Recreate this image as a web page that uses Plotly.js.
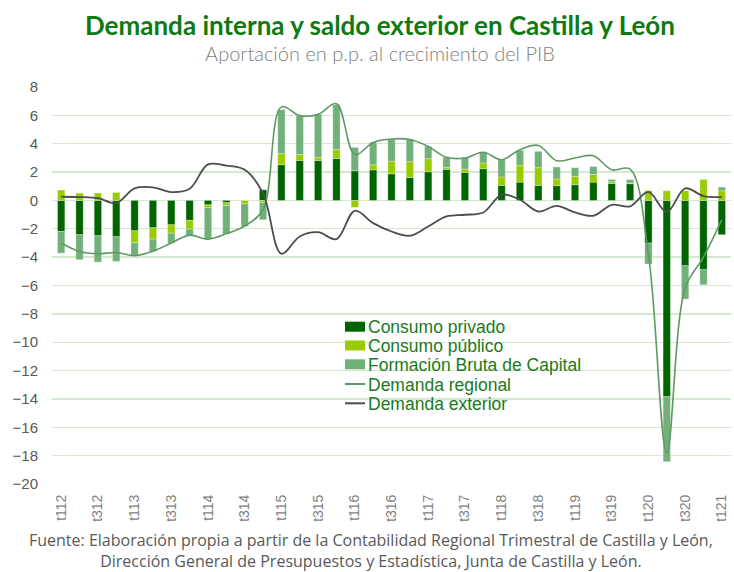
<!DOCTYPE html>
<html>
<head>
<meta charset="utf-8">
<script src="https://cdn.plot.ly/plotly-3.0.1.min.js"></script>
<style>html,body{margin:0;padding:0;background:#fff}#chart{width:734px;height:572px}</style>
</head>
<body>
<div id="chart"></div>
<script>
const quarters = ["t112","t212","t312","t412","t113","t213","t313","t413","t114","t214","t314","t414",
  "t115","t215","t315","t415","t116","t216","t316","t416","t117","t217","t317","t417",
  "t118","t218","t318","t418","t119","t219","t319","t419","t120","t220","t320","t420","t121"];
const tickLabels = ["t112","t312","t113","t313","t114","t314","t115","t315","t116","t316","t117","t317",
  "t118","t318","t119","t319","t120","t320","t121"];
const seriesNames = ["Consumo privado","Consumo público","Formación Bruta de Capital","Demanda regional","Demanda exterior"];

const consumoPrivado = [-2.19,-2.42,-2.49,-2.56,-2.14,-1.93,-1.72,-1.41,-0.31,-0.16,0,0.75,
  2.52,2.82,2.82,2.96,2.09,2.16,1.88,1.62,2.02,2.19,1.98,2.24,
  1.06,1.29,1.06,1.04,1.11,1.29,1.20,1.18,-3.01,-13.84,-4.61,-4.89,-2.42];
const consumoPublico = [0.73,0.52,0.52,0.56,-0.85,-0.80,-0.59,-0.61,-0.21,-0.19,-0.24,-0.14,
  0.78,0.42,0.21,0.64,-0.49,0.35,0.89,1.11,0.92,0.14,0.24,0.40,
  0.59,1.20,1.25,0.47,0.59,0.54,0.12,0.05,0.70,0.68,0.68,1.48,0.68];
const formacionBruta = [-1.53,-1.76,-1.86,-1.74,-0.92,-0.87,-0.71,-0.45,-2.21,-2.02,-1.60,-1.22,
  3.10,2.73,3.04,3.15,1.65,1.58,1.55,1.60,0.87,0.71,0.82,0.78,
  1.22,1.04,1.15,0.85,0.61,0.56,0.16,0.24,-1.48,-4.59,-2.35,-1.06,0.26];
const demandaRegional = [-3.0,-3.6,-3.76,-3.67,-3.9,-3.58,-3.0,-2.45,-2.73,-2.35,-1.8,-0.65,
  6.6,5.98,6.07,6.82,3.22,4.09,4.33,4.3,3.81,3.04,2.99,3.4,
  2.87,3.58,3.88,2.8,2.99,3.15,2.16,2.2,-3.8,-17.8,-6.2,-4.0,-1.35];
const demandaExterior = [0.26,0.24,0.16,-0.19,0.85,0.92,0.59,0.82,2.54,2.45,2.16,0.5,
  -3.76,-2.54,-2.24,-2.73,-0.73,-1.6,-2.19,-2.49,-1.84,-1.13,-1.01,-0.85,
  0.4,0.05,-0.78,-0.38,-0.85,-1.08,-0.31,-0.42,0.6,-0.82,0.85,0.31,0.24];

const colors = ['#006400','#99cc00','#72b07a','#5e9a66','#4d4d4d'];
const barLine = {color:'rgba(255,255,255,0.6)', width:0.5};
const traces = [
  {type:'bar', name:seriesNames[0], x:quarters, y:consumoPrivado, marker:{color:colors[0], line:barLine}},
  {type:'bar', name:seriesNames[1], x:quarters, y:consumoPublico, marker:{color:colors[1], line:barLine}},
  {type:'bar', name:seriesNames[2], x:quarters, y:formacionBruta, marker:{color:colors[2], line:barLine}},
  {type:'scatter', mode:'lines', name:seriesNames[3], x:quarters, y:demandaRegional,
   line:{color:colors[3], width:1.6, shape:'spline', smoothing:1}},
  {type:'scatter', mode:'lines', name:seriesNames[4], x:quarters, y:demandaExterior,
   line:{color:colors[4], width:1.8, shape:'spline', smoothing:1}}
];

// plot area in pixels
const L = 52, R = 731, T = 87, B = 484;
const px = v => (v - L) / (R - L);
const py = v => (B - v) / (B - T);

const legendY = [326.7, 345.5, 364.3, 384, 403.3];
const shapes = [];
const annotations = [];
seriesNames.forEach((name, i) => {
  const yc = legendY[i];
  if (i < 3) {
    shapes.push({type:'rect', xref:'paper', yref:'paper', x0:px(345), x1:px(365), y0:py(yc+5), y1:py(yc-5),
      fillcolor:colors[i], line:{width:0}});
  } else {
    shapes.push({type:'line', xref:'paper', yref:'paper', x0:px(345), x1:px(365), y0:py(yc), y1:py(yc),
      line:{color:colors[i], width:2}});
  }
  annotations.push({text:name, xref:'paper', yref:'paper', x:px(366), y:py(yc+0.5), xanchor:'left', yanchor:'middle',
    showarrow:false, font:{family:'Arial', size:17.5, color:'#1a7a1a'}});
});

annotations.push(
  {text:'<span style="font-size:26px;font-weight:bold;color:#0e7a12">Demanda interna y saldo exterior en Castilla y León</span><br>Aportación en p.p. al crecimiento del PIB',
   xref:'paper', yref:'paper', x:px(380), y:py(37), xanchor:'center', yanchor:'middle', showarrow:false, align:'center',
   font:{family:'Lato', size:20, weight:300, color:'#7f7f7f'}},
  {text:'Fuente: Elaboración propia a partir de la Contabilidad Regional Trimestral de Castilla y León,<br>Dirección General de Presupuestos y Estadística, Junta de Castilla y León.',
   xref:'paper', yref:'paper', x:px(371), y:py(550), xanchor:'center', yanchor:'middle', showarrow:false, align:'center',
   font:{family:'Open Sans', size:16, color:'#595959'}}
);

const layout = {
  width:734, height:572,
  margin:{l:L, r:734-R, t:T, b:572-B},
  paper_bgcolor:'#ffffff', plot_bgcolor:'#ffffff',
  barmode:'relative', bargap:0.6,
  showlegend:false,
  xaxis:{type:'category', categoryorder:'array', categoryarray:quarters,
    tickmode:'array', tickvals:tickLabels, ticktext:tickLabels, tickangle:-90,
    tickfont:{family:'Arial', size:14, color:'#7f7f7f'},
    showgrid:false, zeroline:false, showline:false, ticks:'outside', ticklen:4, tickcolor:'rgba(0,0,0,0)',
    range:[-0.5,36.5]},
  yaxis:{range:[-20,8], dtick:2, tick0:0, showgrid:true, gridcolor:'#d6e8d0', gridwidth:1.3,
    zeroline:true, zerolinecolor:'#d6e8d0', zerolinewidth:1.3,
    ticks:'outside', ticklen:10, tickcolor:'rgba(0,0,0,0)',
    tickfont:{family:'Arial', size:15, color:'#595959'}},
  shapes: shapes,
  annotations: annotations
};

Plotly.newPlot('chart', traces, layout, {displayModeBar:false, staticPlot:true});
</script>
</body>
</html>
